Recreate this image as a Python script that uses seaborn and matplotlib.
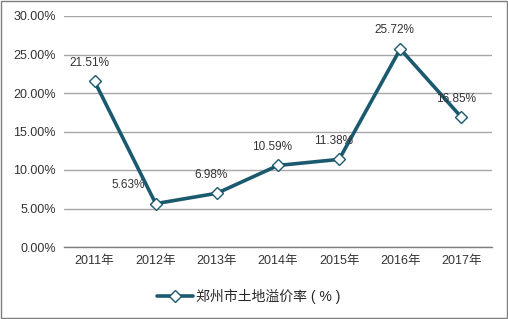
import matplotlib
matplotlib.use("Agg")
import matplotlib.pyplot as plt
import seaborn as sns
import pandas as pd
from matplotlib.ticker import FuncFormatter

years = ["2011年", "2012年", "2013年", "2014年", "2015年", "2016年", "2017年"]
values = [21.51, 5.63, 6.98, 10.59, 11.38, 25.72, 16.85]
series_name = "郑州市土地溢价率 ( % )"

sns.set_theme(style="white")
plt.rcParams["font.family"] = ["Liberation Sans", "Noto Sans CJK SC", "DejaVu Sans"]

df = pd.DataFrame({"year": years, "value": values})

fig = plt.figure(figsize=(5.08, 3.19), dpi=100)
ax = fig.add_axes([64/508, 1-247/319, (492-64)/508, (247-16)/319])

color = "#1b5a6e"
sns.lineplot(data=df, x="year", y="value", ax=ax, color=color, linewidth=2.6,
             marker="D", markersize=6.3, markerfacecolor="white",
             markeredgecolor=color, markeredgewidth=1.0, sort=False,
             label=series_name, legend=False)

ax.set_ylim(0, 30)
ax.set_xlim(-0.5, 6.5)
ax.set_yticks([0, 5, 10, 15, 20, 25, 30])
ax.yaxis.set_major_formatter(FuncFormatter(lambda v, p: f"{v:.2f}%"))
ax.grid(axis="y", color="#a6a6a6", linewidth=1)
ax.set_axisbelow(True)
for s in ["left", "right", "top"]:
    ax.spines[s].set_visible(False)
ax.spines["bottom"].set_color("#7f7f7f")
ax.spines["bottom"].set_linewidth(1)
ax.tick_params(axis="both", length=0, labelsize=9, colors="#333333", pad=6)
ax.set_xlabel("")
ax.set_ylabel("")

offsets = [(-4, 9), (-20, 9), (-4, 9), (-4, 9), (-4, 9), (-4, 9), (-4, 9)]
for i, (v, off) in enumerate(zip(values, offsets)):
    ax.annotate(f"{v:.2f}%", (i, v), xytext=off, textcoords="offset points",
                ha="center", va="bottom", fontsize=8.5, color="#333333")

handles, labels = ax.get_legend_handles_labels()
fig.legend(handles, labels, loc="center", bbox_to_anchor=(0.49, 1-296/319),
           frameon=False, fontsize=10, handlelength=2.6, handletextpad=0.2)

fig.patches.append(plt.Rectangle((0.002, 0.003), 0.996, 0.994, transform=fig.transFigure,
                                 fill=False, edgecolor="#7f7f7f", linewidth=1))

fig.savefig("out.png", dpi=100)
